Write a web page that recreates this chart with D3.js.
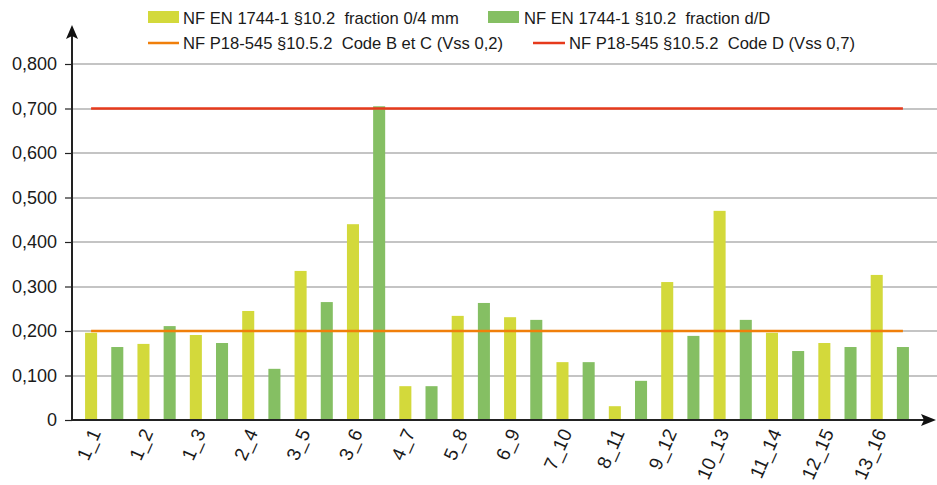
<!DOCTYPE html>
<html>
<head>
<meta charset="utf-8">
<script src="https://cdn.jsdelivr.net/npm/d3@7"></script>
<style>
  html, body { margin: 0; padding: 0; background: #fff; }
  svg { display: block; font-family: "Liberation Sans", Arial, sans-serif; }
  .legend text { white-space: pre; }
</style>
</head>
<body>
<svg id="chart" width="937" height="485"></svg>
<script>
// Sample identifiers (one per pair of bars)
const samples = ["1_1", "1_2", "1_3", "2_4", "3_5", "3_6", "4_7", "5_8",
                 "6_9", "7_10", "8_11", "9_12", "10_13", "11_14", "12_15", "13_16"];
// NF EN 1744-1 §10.2 results, fraction 0/4 mm
const fraction04 = [0.196, 0.171, 0.191, 0.245, 0.335, 0.440, 0.076, 0.234,
                    0.231, 0.130, 0.031, 0.310, 0.470, 0.196, 0.173, 0.326];
// NF EN 1744-1 §10.2 results, fraction d/D
const fractionDD = [0.164, 0.211, 0.173, 0.115, 0.265, 0.705, 0.076, 0.263,
                    0.225, 0.130, 0.088, 0.189, 0.225, 0.155, 0.164, 0.164];
// NF P18-545 §10.5.2 thresholds
const limitBC = 0.2;
const limitD = 0.7;
const yTicks = [0, 0.1, 0.2, 0.3, 0.4, 0.5, 0.6, 0.7, 0.8];

const seriesNames = [
  "NF EN 1744-1 §10.2  fraction 0/4 mm",
  "NF EN 1744-1 §10.2  fraction d/D",
  "NF P18-545 §10.5.2  Code B et C (Vss 0,2)",
  "NF P18-545 §10.5.2  Code D (Vss 0,7)"
];
const colors = { f04: "#d3d93b", fdd: "#85bf63", bc: "#f07f0a", d: "#e63a1c" };

// Each sample takes two consecutive slots: 0/4 mm then d/D
const slots = [];
samples.forEach((s, i) => {
  slots.push({ slot: 2 * i, sample: s, value: fraction04[i], kind: "f04" });
  slots.push({ slot: 2 * i + 1, sample: s, value: fractionDD[i], kind: "fdd" });
});

const svg = d3.select("#chart");
const x = d3.scaleBand()
  .domain(d3.range(slots.length))
  .range([78, 916])
  .paddingInner(0.54)
  .paddingOuter(0.27);
const y = d3.scaleLinear().domain([0, 0.8]).range([420, 64]);
const fmt = v => v === 0 ? "0" : d3.format(".3f")(v).replace(".", ",");
const cx = i => x(i) + x.bandwidth() / 2;

// Horizontal gridlines
svg.append("g").selectAll("line")
  .data(yTicks.filter(t => t > 0))
  .join("line")
  .attr("x1", 72).attr("x2", 937)
  .attr("y1", d => Math.round(y(d))).attr("y2", d => Math.round(y(d)))
  .attr("stroke", "#b0b0b0").attr("stroke-width", 1.5);

// Bars
svg.append("g").selectAll("rect")
  .data(slots)
  .join("rect")
  .attr("x", d => x(d.slot))
  .attr("width", x.bandwidth())
  .attr("y", d => y(d.value))
  .attr("height", d => y(0) - y(d.value))
  .attr("fill", d => colors[d.kind]);

// Threshold lines, from first to last slot centre
const line = d3.line().x(d => cx(d[0])).y(d => y(d[1]));
const first = 0, last = slots.length - 1;
svg.append("path")
  .attr("d", line([[first, limitBC], [last, limitBC]]))
  .attr("stroke", colors.bc).attr("stroke-width", 2.5).attr("fill", "none");
svg.append("path")
  .attr("d", line([[first, limitD], [last, limitD]]))
  .attr("stroke", colors.d).attr("stroke-width", 2.5).attr("fill", "none");

// Y axis
const yAxis = d3.axisLeft(y).tickValues(yTicks).tickFormat(fmt).tickSize(7).tickPadding(8);
const gy = svg.append("g").attr("transform", "translate(72,0)").call(yAxis);
gy.select(".domain").remove();
gy.selectAll(".tick line").attr("stroke", "#222").attr("stroke-width", 1.2);
gy.selectAll(".tick text").attr("font-size", 18).attr("fill", "#1a1a1a")
  .attr("font-family", "'Liberation Sans', Arial, sans-serif");
svg.append("line").attr("x1", 72).attr("x2", 72).attr("y1", 420).attr("y2", 34)
  .attr("stroke", "#222").attr("stroke-width", 2);
svg.append("path").attr("d", "M72,25 L78,39 L72,36 L66,39 Z").attr("fill", "#111");

// X axis
svg.append("line").attr("x1", 72).attr("x2", 926).attr("y1", 420).attr("y2", 420)
  .attr("stroke", "#222").attr("stroke-width", 2);
svg.append("path").attr("d", "M936,420 L921,414 L924,420 L921,426 Z").attr("fill", "#111");

// Category labels (one per sample, under its first bar)
svg.append("g").selectAll("text")
  .data(slots.filter(d => d.kind === "f04"))
  .join("text")
  .attr("transform", d => `translate(${cx(d.slot) + 4},${430}) rotate(-66)`)
  .attr("text-anchor", "end")
  .attr("dy", "0.35em")
  .attr("font-size", 19)
  .attr("fill", "#1a1a1a")
  .text(d => d.sample);

// Legend
const lg = svg.append("g").attr("class", "legend").attr("font-size", 16.6).attr("fill", "#1a1a1a");
lg.append("rect").attr("x", 148).attr("y", 11).attr("width", 31).attr("height", 12).attr("fill", colors.f04);
lg.append("text").attr("x", 183).attr("y", 24).text(seriesNames[0]);
lg.append("rect").attr("x", 488).attr("y", 11).attr("width", 31).attr("height", 12).attr("fill", colors.fdd);
lg.append("text").attr("x", 524).attr("y", 24).text(seriesNames[1]);
lg.append("line").attr("x1", 148).attr("x2", 179).attr("y1", 43).attr("y2", 43)
  .attr("stroke", colors.bc).attr("stroke-width", 2.5);
lg.append("text").attr("x", 183).attr("y", 49).text(seriesNames[2]);
lg.append("line").attr("x1", 533).attr("x2", 565).attr("y1", 43).attr("y2", 43)
  .attr("stroke", colors.d).attr("stroke-width", 2.5);
lg.append("text").attr("x", 569).attr("y", 49).text(seriesNames[3]);
</script>
</body>
</html>
